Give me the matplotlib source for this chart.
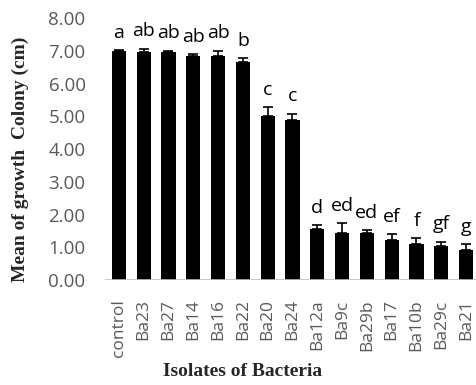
import matplotlib
matplotlib.use("Agg")
import matplotlib.pyplot as plt
import numpy as np

categories = ["control", "Ba23", "Ba27", "Ba14", "Ba16", "Ba22", "Ba20", "Ba24",
              "Ba12a", "Ba9c", "Ba29b", "Ba17", "Ba10b", "Ba29c", "Ba21"]
means = [7.00, 6.95, 6.95, 6.85, 6.85, 6.65, 5.02, 4.90,
         1.55, 1.45, 1.45, 1.22, 1.10, 1.05, 0.92]
errors = [0.02, 0.12, 0.06, 0.05, 0.15, 0.12, 0.25, 0.18,
          0.12, 0.28, 0.07, 0.18, 0.18, 0.12, 0.18]
letters = ["a", "ab", "ab", "ab", "ab", "b", "c", "c",
           "d", "ed", "ed", "ef", "f", "gf", "g"]
yticks = [0, 1, 2, 3, 4, 5, 6, 7, 8]

sans = ["Liberation Sans Narrow", "Open Sans", "DejaVu Sans"]

fig = plt.figure(figsize=(4.76, 3.85), dpi=100)
ax = fig.add_axes([0.2206, 0.2727, 0.7794, 0.6803])

x = np.arange(len(categories))
ax.bar(x, means, width=0.57, color="black", zorder=2)
ax.errorbar(x, means, yerr=[np.zeros(len(errors)), errors], fmt="none",
            ecolor="black", elinewidth=1.2, capsize=3.5, capthick=1.2, zorder=3)

for xi, m, e, l in zip(x, means, errors, letters):
    ax.text(xi, m + e + 0.38, l, ha="center", va="baseline", fontsize=14,
            family=sans, color="black")

ax.set_xlim(-0.56, 14.4)
ax.set_ylim(0, 8)
ax.set_yticks(yticks)
ax.set_yticklabels([f"{v:.2f}" for v in yticks], fontsize=13.5,
                   family=sans, color="#595959")
ax.set_xticks(x)
ax.set_xticklabels(categories, rotation=90, fontsize=12.5,
                   family=sans, color="#595959")
ax.tick_params(axis="y", length=0, pad=14)
ax.tick_params(axis="x", length=0, pad=14)
ax.axhline(0, color="#bfbfbf", lw=1.2, zorder=4)
for s in ax.spines.values():
    s.set_visible(False)

ax.set_ylabel("Mean of growth  Colony (cm)", fontsize=14, fontweight="bold",
              family="Liberation Serif", color="#262626")
ax.yaxis.set_label_coords(-0.205, 0.46)
fig.text(0.51, 0.034, "Isolates of Bacteria", ha="center", va="center",
         fontsize=14, fontweight="bold", family="Liberation Serif",
         color="#262626")

fig.savefig("out.png", dpi=100)
